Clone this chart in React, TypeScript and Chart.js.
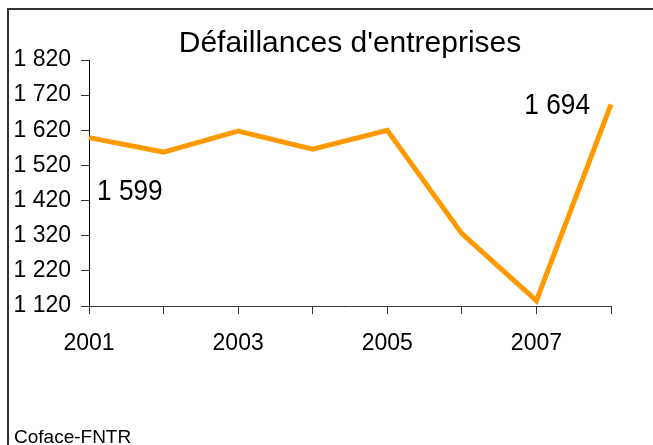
import React, { useEffect, useRef } from "react";
import { Chart, registerables } from "chart.js";

Chart.register(...registerables);

const TITLE = "Défaillances d'entreprises";
const SOURCE = "Coface-FNTR";
const years = ["2001", "2002", "2003", "2004", "2005", "2006", "2007", "2008"];
const failures = [1599, 1558, 1618, 1566, 1620, 1326, 1135, 1694];
const yMin = 1120;
const yMax = 1820;
const yStep = 100;
const labelledIndices = [0, 7];

const FONT = "'Liberation Sans', Arial, sans-serif";

const fmt = (v: number) => {
  const s = Math.round(v).toString();
  return s.replace(/\B(?=(\d{3})+(?!\d))/g, " ");
};

const decorPlugin = {
  id: "decor",
  beforeDraw(chart: any) {
    const ctx = chart.ctx;
    ctx.save();
    ctx.strokeStyle = "#333";
    ctx.lineWidth = 2;
    ctx.beginPath();
    ctx.moveTo(8, chart.height + 2);
    ctx.lineTo(8, 9);
    ctx.lineTo(chart.width + 2, 9);
    ctx.stroke();
    // title
    ctx.fillStyle = "#000";
    ctx.font = `30px ${FONT}`;
    ctx.textAlign = "center";
    ctx.textBaseline = "alphabetic";
    const ca = chart.chartArea;
    ctx.fillText(TITLE, (ca.left + ca.right) / 2, 52);
    // source
    ctx.font = `19px ${FONT}`;
    ctx.textAlign = "left";
    ctx.fillText(SOURCE, 14, 443);
    ctx.restore();
  },
  afterDatasetsDraw(chart: any) {
    const ctx = chart.ctx;
    const meta = chart.getDatasetMeta(0);
    ctx.save();
    ctx.fillStyle = "#000";
    ctx.font = `30px ${FONT}`;
    ctx.textBaseline = "middle";
    labelledIndices.forEach((i) => {
      const pt = meta.data[i];
      const txt = fmt(failures[i]);
      ctx.save();
      if (i === 0) {
        ctx.translate(pt.x + 8, pt.y + 54);
        ctx.scale(0.875, 1);
        ctx.textAlign = "left";
      } else {
        ctx.translate(pt.x - 21, pt.y + 1);
        ctx.scale(0.875, 1);
        ctx.textAlign = "right";
      }
      ctx.fillText(txt, 0, 0);
      ctx.restore();
    });
    ctx.restore();
  },
};

export default function App() {
  const ref = useRef<HTMLCanvasElement>(null);
  useEffect(() => {
    if (!ref.current) return;
    const chart = new Chart(ref.current, {
      type: "line",
      data: {
        labels: years,
        datasets: [
          {
            data: failures,
            borderColor: "#FF9900",
            backgroundColor: "#FF9900",
            borderWidth: 5,
            pointRadius: 0,
            tension: 0,
            fill: false,
          },
        ],
      },
      options: {
        animation: false,
        responsive: false,
        devicePixelRatio: 1,
        layout: { padding: { top: 60, right: 42, bottom: 0, left: 0 } },
        plugins: {
          legend: { display: false },
          title: { display: false },
          tooltip: { enabled: false },
        },
        scales: {
          x: {
            offset: false,
            afterFit: (axis: any) => {
              axis.height = 139;
            },
            grid: {
              drawOnChartArea: false,
              drawTicks: true,
              tickLength: 8,
              color: "#333",
            },
            border: { display: true, color: "#333", width: 1 },
            ticks: {
              autoSkip: false,
              maxRotation: 0,
              padding: 16,
              color: "#000",
              font: { family: FONT, size: 23 },
              callback: (_v: any, i: number) => (i % 2 === 0 ? years[i] : ""),
            },
          },
          y: {
            min: yMin,
            max: yMax,
            afterFit: (axis: any) => {
              axis.width = 89;
            },
            grid: {
              drawOnChartArea: false,
              drawTicks: true,
              tickLength: 8,
              color: "#333",
            },
            border: { display: true, color: "#000", width: 1 },
            ticks: {
              stepSize: yStep,
              padding: 10,
              color: "#000",
              font: { family: FONT, size: 23 },
              callback: (v: any) => fmt(Number(v)),
            },
          },
        },
      },
      plugins: [decorPlugin],
    });
    return () => chart.destroy();
  }, []);
  return (
    <div style={{ position: "fixed", left: 0, top: 0, width: 653, height: 445, background: "#fff" }}>
      <canvas ref={ref} width={653} height={445} />
    </div>
  );
}
